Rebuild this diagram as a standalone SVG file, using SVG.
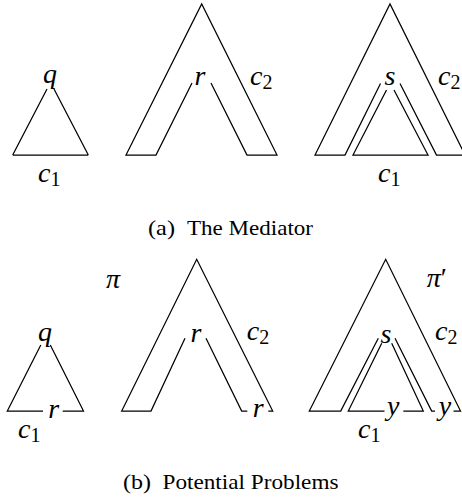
<svg xmlns="http://www.w3.org/2000/svg" width="462" height="499" viewBox="0 0 462 499">
<style>
.ln{fill:none;stroke:#000;stroke-width:1.25;stroke-linejoin:miter}
.m{font-family:"Liberation Serif","DejaVu Serif",serif;font-style:italic;font-size:28px;fill:#000}
.mid{text-anchor:middle}
.sub{font-style:normal;font-size:20px}
.cap{font-family:"Liberation Serif","DejaVu Serif",serif;font-size:22px;fill:#000}
</style>
<rect width="462" height="499" fill="#fff"/>
<g id="a-left">
<path class="ln" d="M12.7,155 L47,89 M54,89 L88.3,155 M12.7,155 H88.3"/>
<text class="m mid" x="50" y="83">q</text>
<text class="m" x="38" y="182">c<tspan class="sub" dy="4">1</tspan></text>
</g>
<g id="a-middle">
<path class="ln" d="M192,83 L156,155 L126,155 L201.7,4 L277,155 L247,155 L211,83"/>
<text class="m mid" x="200" y="85">r</text>
<text class="m" x="250" y="85">c<tspan class="sub" dy="4">2</tspan></text>
</g>
<g id="a-right">
<path class="ln" d="M380.5,83.5 L345,155 L315,155 L390,4 L465,155 L436.5,155 L400,83.5"/>
<path class="ln" d="M386.5,90 L353,155 L428,155 L394,90"/>
<text class="m mid" x="390" y="85">s</text>
<text class="m" x="438" y="85">c<tspan class="sub" dy="4">2</tspan></text>
<text class="m" x="378" y="182">c<tspan class="sub" dy="4">1</tspan></text>
</g>
<g id="caption-a">
<text class="cap" x="148" y="235" textLength="27" lengthAdjust="spacingAndGlyphs">(a)</text>
<text class="cap" x="187" y="235" textLength="126" lengthAdjust="spacingAndGlyphs">The Mediator</text>
</g>
<g id="b-left">
<path class="ln" d="M40.8,345 L7.3,411 L43,411 M62.7,411 L83.5,411 L50.3,345"/>
<text class="m mid" x="45" y="340.7">q</text>
<text class="m mid" x="53.7" y="418">r</text>
<text class="m" x="18" y="438">c<tspan class="sub" dy="4">1</tspan></text>
<text class="m mid" x="113" y="288">π</text>
</g>
<g id="b-middle">
<path class="ln" d="M185,338.3 L151,411 L121.7,411 L196.7,259.3 L272.7,411 L268.3,411 M247.3,411 L241.7,411 L206,338.3"/>
<text class="m mid" x="196" y="341.7">r</text>
<text class="m mid" x="258.3" y="417">r</text>
<text class="m" x="246.7" y="340">c<tspan class="sub" dy="4">2</tspan></text>
</g>
<g id="b-right">
<path class="ln" d="M378.3,338.3 L340.7,411 L309.3,411 L385.7,259.3 L460.5,411 L453.5,411 M435,411 L431.7,411 L395,338.3"/>
<path class="ln" d="M381.7,343.3 L348.3,411 L384.5,411 M403.3,411 L423.3,411 L391.7,343.3"/>
<text class="m mid" x="386" y="343">s</text>
<text class="m" x="435" y="340">c<tspan class="sub" dy="4">2</tspan></text>
<text class="m mid" x="393.3" y="415">y</text>
<text class="m mid" x="445" y="415">y</text>
<text class="m" x="358" y="438">c<tspan class="sub" dy="4">1</tspan></text>
<text class="m" x="426.7" y="287">π<tspan font-style="normal">′</tspan></text>
</g>
<g id="caption-b">
<text class="cap" x="123" y="489" textLength="28" lengthAdjust="spacingAndGlyphs">(b)</text>
<text class="cap" x="162.5" y="489" textLength="176" lengthAdjust="spacingAndGlyphs">Potential Problems</text>
</g>
<g id="connectors"/>
</svg>
